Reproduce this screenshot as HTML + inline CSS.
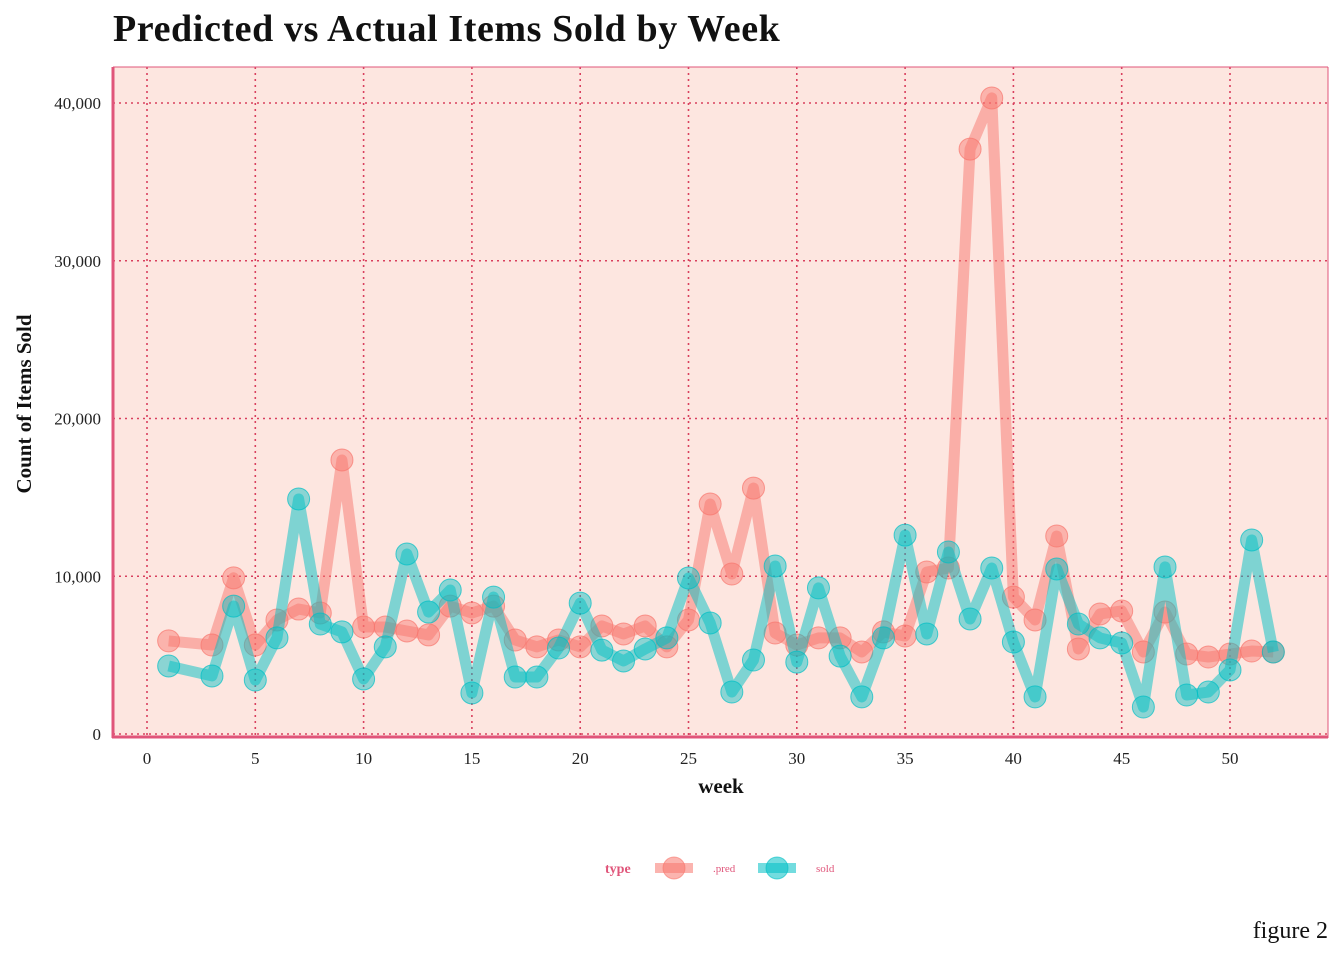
<!DOCTYPE html>
<html><head><meta charset="utf-8">
<style>
body{margin:0;background:#fff;width:1344px;height:960px;overflow:hidden;font-family:"Liberation Serif",serif;}
</style></head>
<body>
<svg id="chart" width="1344" height="960" xmlns="http://www.w3.org/2000/svg">
<text x="113" y="41" font-size="38" font-weight="bold" letter-spacing="0.6" fill="#111">Predicted vs Actual Items Sold by Week</text>
<rect x="113" y="67" width="1215" height="670" fill="#fde6e0"/>
<g id="grid"></g>
<line x1="113" y1="67" x2="113" y2="738" stroke="#e0557a" stroke-width="3"/>
<line x1="112" y1="737" x2="1328" y2="737" stroke="#e0557a" stroke-width="3"/>
<line x1="1328" y1="67" x2="1328" y2="738" stroke="#e0557a" stroke-width="1"/>
<line x1="113" y1="67" x2="1328" y2="67" stroke="#e0557a" stroke-width="1"/>
<g id="series"></g>
<g id="ticks"></g>
<text x="721" y="793" font-size="21" font-weight="bold" text-anchor="middle" fill="#111">week</text>
<text transform="translate(31,404) rotate(-90)" font-size="21" font-weight="bold" text-anchor="middle" fill="#111">Count of Items Sold</text>
<g>
<text x="605" y="873" font-size="14" font-weight="bold" fill="#e0557a">type</text>
<g>
<line x1="655" y1="868" x2="693" y2="868" stroke="#f8766d" stroke-opacity="0.55" stroke-width="10"/>
<circle cx="674" cy="868" r="11" fill="#f8766d" fill-opacity="0.55" stroke="#f8766d" stroke-opacity="0.6"/>
<text x="713" y="872" font-size="11" fill="#e0557a">.pred</text></g>
<g>
<line x1="758" y1="868" x2="796" y2="868" stroke="#00bfc4" stroke-opacity="0.55" stroke-width="10"/>
<circle cx="777" cy="868" r="11" fill="#00bfc4" fill-opacity="0.55" stroke="#00bfc4" stroke-opacity="0.6"/>
<text x="816" y="872" font-size="11" fill="#e0557a">sold</text></g>
</g>
<text x="1328" y="938" font-size="24" text-anchor="end" fill="#111">figure 2</text>
</svg>
<script>
const weeks=[1,3,4,5,6,7,8,9,10,11,12,13,14,15,16,17,18,19,20,21,22,23,24,25,26,27,28,29,30,31,32,33,34,35,36,37,38,39,40,41,42,43,44,45,46,47,48,49,50,51,52];
const predValues=[5900,5640,9900,5640,7230,7920,7670,17370,6780,6780,6530,6280,8110,7670,8110,5960,5520,5960,5520,6850,6340,6850,5520,7230,14580,10140,15590,6400,5640,6090,6090,5200,6470,6210,10270,10520,37080,40320,8680,7230,12550,5390,7610,7800,5200,7730,5070,4880,5070,5260,5200];
const soldValues=[4310,3680,8110,3420,6090,14900,6970,6470,3490,5520,11410,7730,9130,2600,8680,3610,3610,5450,8300,5320,4630,5390,6090,9890,7040,2660,4690,10650,4560,9260,4940,2350,6090,12610,6340,11540,7290,10520,5830,2350,10460,6970,6090,5770,1710,10590,2470,2660,4060,12300,5200];
const xTicks=[0,5,10,15,20,25,30,35,40,45,50];
const yTicks=[0,10000,20000,30000,40000];
const yTickLabels=["0","10,000","20,000","30,000","40,000"];
const NS="http://www.w3.org/2000/svg";
const x=w=>147+w*(1230-147)/50;
const y=v=>734-v*(734-103)/40000;
function mk(tag,attrs,parent){const e=document.createElementNS(NS,tag);for(const k in attrs)e.setAttribute(k,attrs[k]);parent.appendChild(e);return e;}
const grid=document.getElementById('grid'),ticks=document.getElementById('ticks'),series=document.getElementById('series');
xTicks.forEach((t,i)=>{
 const l=mk('line',{x1:x(t),x2:x(t),y1:67,y2:737,stroke:'#d9405e','stroke-width':1.6,'stroke-dasharray':'2,4'},grid);
 
 
 const tx=mk('text',{x:x(t),y:764,'font-size':17,'text-anchor':'middle',fill:'#222'},ticks);
 tx.textContent=t;
 
 
});
yTicks.forEach((t,i)=>{
 const l=mk('line',{x1:113,x2:1328,y1:y(t),y2:y(t),stroke:'#d9405e','stroke-width':1.6,'stroke-dasharray':'2,4'},grid);
 
 
 const tx=mk('text',{x:101,y:y(t)+6,'font-size':17,'text-anchor':'end',fill:'#222'},ticks);
 tx.textContent=yTickLabels[i];
 
 
});
function drawSeries(vals,color,name){
 const pts=weeks.map((w,i)=>x(w)+','+y(vals[i])).join(' ');
 const pl=mk('polyline',{points:pts,fill:'none',stroke:color,'stroke-opacity':0.5,'stroke-width':11,'stroke-linejoin':'round'},series);
 
 
 weeks.forEach((w,i)=>{
  const c=mk('circle',{cx:x(w),cy:y(vals[i]),r:11,fill:color,'fill-opacity':0.45,stroke:color,'stroke-opacity':0.7},series);
  
  
 });
}
drawSeries(predValues,'#f8766d','pred');
drawSeries(soldValues,'#00bfc4','sold');
</script>
</body></html>
